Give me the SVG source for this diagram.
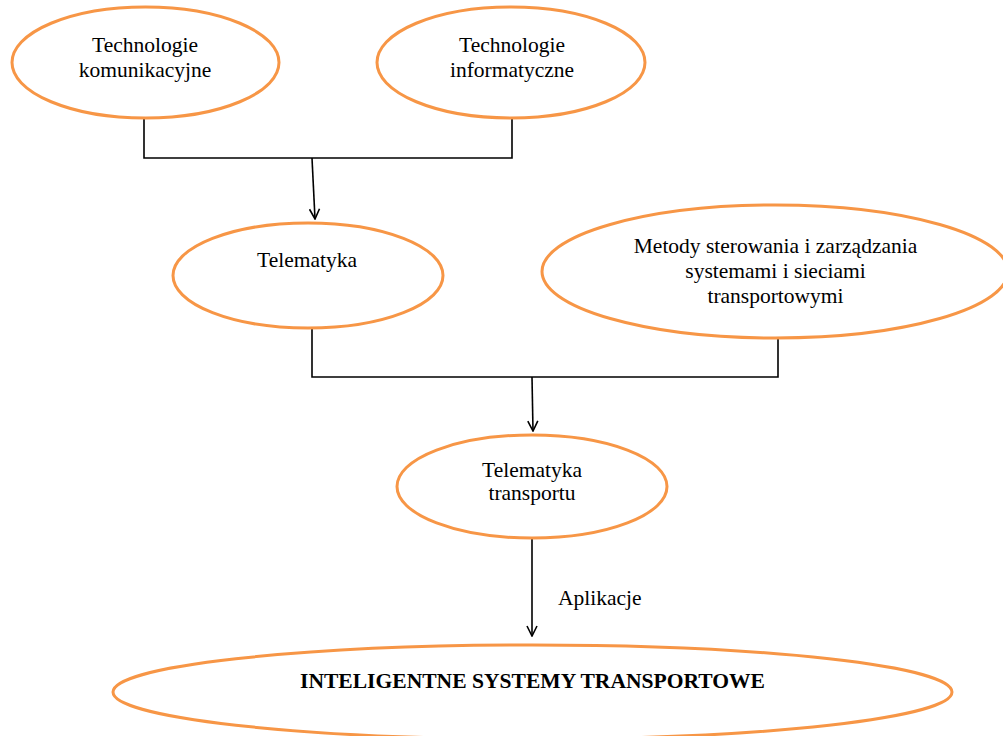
<svg xmlns="http://www.w3.org/2000/svg" width="1003" height="736" viewBox="0 0 1003 736">
<defs>
<style>
.node{fill:#ffffff;stroke:#F79646;stroke-width:3}
.lbl{font-family:"Liberation Serif","Times New Roman",serif;font-size:21.5px;fill:#000;text-anchor:middle}
.big{font-family:"Liberation Serif","Times New Roman",serif;font-size:20px;font-weight:bold;fill:#000;text-anchor:middle}
.conn{fill:none;stroke:#000;stroke-width:1.6}
</style>
<marker id="arr" viewBox="0 0 12 12" refX="11" refY="6" markerWidth="12" markerHeight="12" markerUnits="userSpaceOnUse" orient="auto">
<path d="M1,1 L11,6 L1,11" fill="none" stroke="#000" stroke-width="1.6"/>
</marker>
</defs>
<rect width="1003" height="736" fill="#ffffff"/>
<g id="connectors">
<path class="conn" d="M144,118 V158 H512 V118"/>
<path class="conn" d="M312,158 L315,219" marker-end="url(#arr)"/>
<path class="conn" d="M312,329 V377 H778 V338"/>
<path class="conn" d="M532,377 L533,431" marker-end="url(#arr)"/>
<path class="conn" d="M532,538 V636" marker-end="url(#arr)"/>
<text x="558" y="605" class="lbl" style="text-anchor:start">Aplikacje</text>
</g>
<g id="n-komunikacyjne">
<ellipse class="node" cx="145.5" cy="62.5" rx="133.5" ry="55.5"/>
<text class="lbl" x="145" y="52">Technologie</text>
<text class="lbl" x="145" y="77">komunikacyjne</text>
</g>
<g id="n-informatyczne">
<ellipse class="node" cx="511" cy="62.5" rx="134" ry="55.5"/>
<text class="lbl" x="512" y="52">Technologie</text>
<text class="lbl" x="512" y="77">informatyczne</text>
</g>
<g id="n-telematyka">
<ellipse class="node" cx="308" cy="275.5" rx="135" ry="52.5"/>
<text class="lbl" x="307" y="267">Telematyka</text>
</g>
<g id="n-metody">
<ellipse class="node" cx="775" cy="271.5" rx="233" ry="66.5"/>
<text class="lbl" x="775.5" y="253">Metody sterowania i zarządzania</text>
<text class="lbl" x="775.5" y="278">systemami i sieciami</text>
<text class="lbl" x="775.5" y="303">transportowymi</text>
</g>
<g id="n-telematyka-transportu">
<ellipse class="node" cx="532" cy="486.5" rx="135" ry="51.5"/>
<text class="lbl" x="532" y="477">Telematyka</text>
<text class="lbl" x="532" y="500">transportu</text>
</g>
<g id="n-its">
<ellipse class="node" cx="532.5" cy="692" rx="419.5" ry="47"/>
<text class="big" x="532.5" y="688" textLength="465" lengthAdjust="spacingAndGlyphs">INTELIGENTNE SYSTEMY TRANSPORTOWE</text>
</g>
</svg>
